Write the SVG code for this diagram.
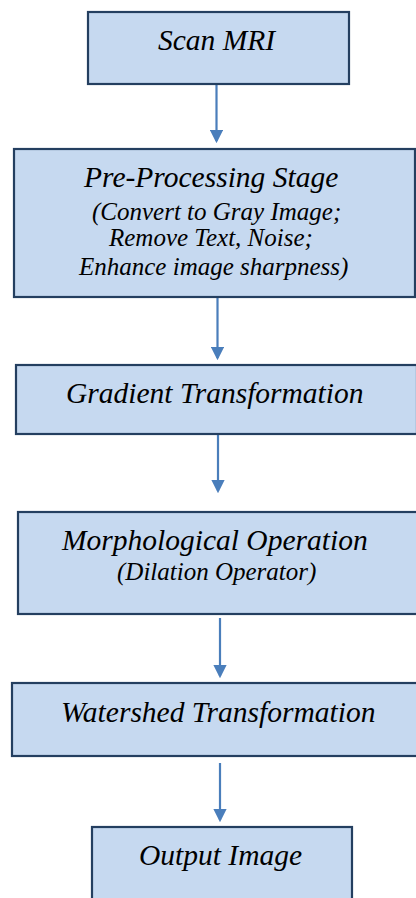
<svg xmlns="http://www.w3.org/2000/svg" width="416" height="898" viewBox="0 0 416 898">
<defs>
<marker id="ah" markerWidth="6" markerHeight="6" refX="5" refY="3" orient="auto" markerUnits="strokeWidth">
<path d="M0,0 L6,3 L0,6 Z" fill="#4A7EBB"/>
</marker>
</defs>
<rect width="416" height="898" fill="#fff"/>
<g id="connectors" stroke="#4A7EBB" stroke-width="2.2" fill="none">
<line x1="216.5" y1="84" x2="216.5" y2="141" marker-end="url(#ah)"/>
<line x1="217.5" y1="298" x2="217.5" y2="358" marker-end="url(#ah)"/>
<line x1="218" y1="435" x2="218" y2="491" marker-end="url(#ah)"/>
<line x1="220" y1="618" x2="220" y2="676" marker-end="url(#ah)"/>
<line x1="220" y1="763" x2="220" y2="820" marker-end="url(#ah)"/>
</g>
<g id="scan">
<rect x="88" y="12" width="261" height="72" fill="#C6D9F0" stroke="#243F60" stroke-width="2.2"/>
<text x="158" y="50" font-family="Liberation Serif, serif" font-style="italic" font-size="29.5">Scan MRI</text>
</g>
<g id="preprocessing">
<rect x="14" y="149" width="401" height="148" fill="#C6D9F0" stroke="#243F60" stroke-width="2.2"/>
<text x="84" y="187" font-family="Liberation Serif, serif" font-style="italic" font-size="29.5">Pre-Processing Stage</text>
<text x="92" y="220" font-family="Liberation Serif, serif" font-style="italic" font-size="25">(Convert to Gray Image;</text>
<text x="109" y="246" font-family="Liberation Serif, serif" font-style="italic" font-size="25">Remove Text, Noise;</text>
<text x="79" y="275" font-family="Liberation Serif, serif" font-style="italic" font-size="25">Enhance image sharpness)</text>
</g>
<g id="gradient">
<rect x="16" y="365" width="401" height="69" fill="#C6D9F0" stroke="#243F60" stroke-width="2.2"/>
<text x="66" y="403" font-family="Liberation Serif, serif" font-style="italic" font-size="29.5">Gradient Transformation</text>
</g>
<g id="morph">
<rect x="18" y="512" width="401" height="102" fill="#C6D9F0" stroke="#243F60" stroke-width="2.2"/>
<text x="62" y="550" font-family="Liberation Serif, serif" font-style="italic" font-size="29.5">Morphological Operation</text>
<text x="117" y="580" font-family="Liberation Serif, serif" font-style="italic" font-size="25">(Dilation Operator)</text>
</g>
<g id="watershed">
<rect x="12" y="683" width="406" height="73" fill="#C6D9F0" stroke="#243F60" stroke-width="2.2"/>
<text x="61" y="722" font-family="Liberation Serif, serif" font-style="italic" font-size="29.5">Watershed Transformation</text>
</g>
<g id="output">
<rect x="92" y="827" width="260" height="80" fill="#C6D9F0" stroke="#243F60" stroke-width="2.2"/>
<text x="139" y="865" font-family="Liberation Serif, serif" font-style="italic" font-size="29.5">Output Image</text>
</g>
</svg>
